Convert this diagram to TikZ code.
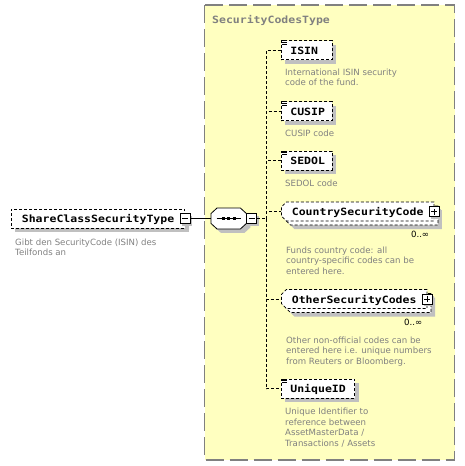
\documentclass[tikz,border=0pt]{standalone}
\usepackage{fontspec}
\newfontfamily\namefont{DejaVu Sans Mono}[FakeStretch=1.15]
\newfontfamily\descfont{DejaVu Sans}
\usetikzlibrary{positioning, shapes.misc, shadows}
\definecolor{panelfill}{RGB}{255,255,192}
\definecolor{panelline}{RGB}{128,128,128}
\definecolor{shadegray}{RGB}{192,192,192}
\definecolor{descgray}{RGB}{128,128,128}
\tikzset{
  panel/.style={draw=panelline, fill=panelfill, line width=1.2pt, dash pattern=on 18pt off 6pt},
  paneltitle/.style={text=panelline, inner sep=0pt, font=\namefont\fontsize{10}{12}\selectfont\bfseries},
  elembase/.style={draw=black, fill=white, line width=0.8pt, dash pattern=on 3pt off 2pt,
              minimum height=19pt, inner xsep=9pt, inner ysep=0pt, text height=9pt, text depth=1pt,
              font=\namefont\fontsize{10}{12}\selectfont\bfseries},
  elem/.style={elembase, rectangle, general shadow={shadow xshift=4pt, shadow yshift=-4pt, fill=shadegray}},
  leafelem/.style={elem, text width=33pt, align=left},
  stackelem/.style={elembase, chamfered rectangle, chamfered rectangle corners={north west, south west},
              chamfered rectangle xsep=2.5pt, chamfered rectangle ysep=2.5pt, inner xsep=8pt,
              general shadow={shadow xshift=8pt, shadow yshift=-8pt, fill=shadegray},
              general shadow={shadow xshift=4pt, shadow yshift=-4pt, fill=white, draw=black,
                              line width=0.8pt, dash pattern=on 3pt off 2pt}},
  seqbox/.style={rectangle, minimum width=35pt, minimum height=20.5pt, inner sep=0pt},
  seqline/.style={draw=black, fill=white, line width=0.8pt},
  btnbase/.style={rectangle, draw=black, fill=white, line width=0.8pt, minimum size=10pt, inner sep=0pt,
              general shadow={shadow xshift=2pt, shadow yshift=-2pt, fill=shadegray}},
  minusbtn/.style={btnbase, path picture={
                \draw[line width=1pt] ([xshift=-3pt]path picture bounding box.center)
                  -- ([xshift=3pt]path picture bounding box.center);}},
  plusbtn/.style={btnbase, path picture={
                \draw[line width=1pt] ([xshift=-3pt]path picture bounding box.center)
                  -- ([xshift=3pt]path picture bounding box.center)
                  ([yshift=-3pt]path picture bounding box.center)
                  -- ([yshift=3pt]path picture bounding box.center);}},
  tree/.style={draw=black, line width=0.8pt},
  optlink/.style={draw=black, line width=0.8pt, dash pattern=on 3pt off 2pt},
  desc/.style={anchor=north west, inner sep=0pt, align=left, text=descgray,
              font=\descfont\fontsize{8.6}{10.6}\selectfont},
  mult/.style={anchor=base east, inner sep=0pt, font=\descfont\fontsize{8.6}{10}\selectfont},
}
\newcommand{\xsdleaf}[1]{%
  \foreach \k in {0,1,2}
    \draw[line width=0.7pt] ([shift={(0.5,0.4+1.8*\k)}]#1.north west) -- +(5.5,0);}
\newcommand{\seqoutline}[1]{([xshift=6pt]#1.north west) -- ([xshift=-6pt]#1.north east)
  -- ([yshift=-5.5pt]#1.north east) -- ([yshift=5.5pt]#1.south east)
  -- ([xshift=-6pt]#1.south east) -- ([xshift=6pt]#1.south west)
  -- ([yshift=5.5pt]#1.south west) -- ([yshift=-5.5pt]#1.north west) -- cycle}

\begin{document}
\begin{tikzpicture}[x=1pt, y=-1pt]
  \useasboundingbox (0,0) rectangle (465,466);
  \draw[panel] (204.5,5) rectangle (454.5,460);
  \node[paneltitle, anchor=base west] (codestitle) at (212,23) {SecurityCodesType};

  % root element and sequence
  \node[elem, inner xsep=10.5pt, anchor=west] (share) at (11,218.5) {ShareClassSecurityType};
  \node[minusbtn] (sharemin) at (share.east) {};
  \node[desc] (sharedesc) at (15,238.5) {Gibt den SecurityCode (ISIN) des\\Teilfonds an};
  \node[seqbox, anchor=west] (seq) at (211,218.5) {};
  \fill[shadegray, transform canvas={shift={(4pt,-4pt)}}] \seqoutline{seq};
  \path[seqline] \seqoutline{seq};
  \draw[line width=1pt] ([xshift=-12pt]seq.center) -- ([xshift=12pt]seq.center);
  \foreach \dx in {-5.5,0,5.5}
    \fill ([xshift=\dx pt]seq.center) +(-1.6pt,-1.6pt) rectangle +(1.6pt,1.6pt);
  \node[minusbtn, anchor=west] (seqmin) at (seq.east) {};
  \coordinate (bus) at (266,218.5);

  % child elements
  \node[leafelem, anchor=west] (isin) at (281,50) {ISIN};
  \xsdleaf{isin}
  \node[desc] (isindesc) at (285,68.5) {International ISIN security\\code of the fund.};

  \node[leafelem, anchor=west] (cusip) at (281,111) {CUSIP};
  \xsdleaf{cusip}
  \node[desc] (cusipdesc) at (285,130) {CUSIP code};

  \node[leafelem, anchor=west] (sedol) at (281,160.5) {SEDOL};
  \xsdleaf{sedol}
  \node[desc] (sedoldesc) at (285,179.5) {SEDOL code};

  \node[stackelem, anchor=west] (csc) at (281,211.5) {CountrySecurityCode};
  \node[plusbtn] (cscplus) at (csc.east) {};
  \node[mult] (cscmult) at ([shift={(-5,26)}]csc.east) {0..∞};
  \node[desc] (cscdesc) at (286,246.5) {Funds country code: all\\country-specific codes can be\\entered here.};

  \node[stackelem, anchor=west] (osc) at (281,299) {OtherSecurityCodes};
  \node[plusbtn] (oscplus) at (osc.east) {};
  \node[mult] (oscmult) at ([shift={(-5,26)}]osc.east) {0..∞};
  \node[desc] (oscdesc) at (286,336.5) {Other non-official codes can be\\entered here i.e. unique numbers\\from Reuters or Bloomberg.};

  \node[elem, anchor=west] (uid) at (281,388.5) {UniqueID};
  \xsdleaf{uid}
  \node[desc] (uiddesc) at (285,408) {Unique Identifier to\\reference between\\AssetMasterData /\\Transactions / Assets};

  % connectors
  \draw[tree] (sharemin) -- (seq);
  \draw[optlink] (seqmin) -- (bus);
  \foreach \child in {isin, cusip, sedol, csc, osc, uid}
    \draw[optlink] (bus) |- (\child.west);
\end{tikzpicture}
\end{document}
